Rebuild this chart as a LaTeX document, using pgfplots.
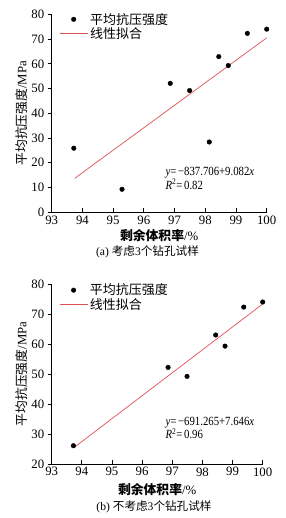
\documentclass[border=0pt]{standalone}
\usepackage{fontspec}
\usepackage{graphicx}
\setmainfont{Liberation Serif}
\newfontfamily\cjk{Noto Sans CJK SC}
\usepackage{pgfplots}
\pgfplotsset{compat=1.18}
\definecolor{fitred}{RGB}{222,80,84}
\pgfplotstableread{
x y
93.72 25.9
95.29 9.3
96.86 52.1
97.49 49.2
98.13 28.4
98.44 62.9
98.75 59.3
99.37 72.3
100.0 74.0
}\dataA
\pgfplotstableread{
x y
93.72 26.1
96.86 52.2
97.49 49.2
98.44 63.0
98.75 59.3
99.37 72.3
100.0 74.0
}\dataB
\pgfplotsset{
  markleg/.style={legend image code/.code={\draw[##1] plot coordinates {(14bp,0bp)};}},
  lineleg/.style={legend image code/.code={\draw[##1] (0bp,0bp) -- (28bp,0bp);}},
  myaxis/.style={
    scale only axis,
    axis lines=left,
    axis line style={line width=0.8pt,-},
    xmin=93, xmax=100,
    xtick={93,94,...,100},
    tick style={line width=0.8pt,black},
    major tick length=4bp,
    xtick align=inside,
    ytick align=outside,
    tick label style={font=\fontsize{12.8bp}{14bp}\selectfont},
    /pgf/number format/assume math mode=true,
    label style={font=\fontsize{12.8bp}{15bp}\selectfont},
    xlabel={\cjk\bfseries 剩余体积率\normalfont/\%},
    ylabel={\cjk 平均抗压强度\normalfont/MPa},
    ylabel style={yshift=-3bp},
    legend style={draw=none, fill=none, anchor=north west,
      font=\cjk\fontsize{13bp}{15bp}\selectfont, row sep=1bp, inner sep=1bp,
      nodes={inner ysep=0.5bp},
      /tikz/every even column/.append style={column sep=6bp}},
    legend cell align=left,
  }
}
\newcommand{\eqtext}[2]{\scalebox{0.86}[1]{\textit{y}=\,#1}\\\scalebox{0.86}[1]{\textit{R}\textsuperscript{2}=\,#2}}
\begin{document}
\begin{tikzpicture}[x=1bp,y=1bp]
\useasboundingbox (-51.7bp,-305.7bp) rectangle (234.3bp,212.3bp);
\begin{axis}[myaxis, at={(0bp,0bp)}, anchor=south west,
  width=215bp, height=198bp, ymin=0, ymax=80, ytick={0,10,...,80},
  xlabel style={at={(axis description cs:0.5,0)}, anchor=center, yshift=-23.5bp},
  legend style={at={(0.03,1.015)}}]
\addplot[only marks, mark=*, mark size=2.3bp, black, markleg]
  table[x=x,y=y] {\dataA};
\addlegendentry{平均抗压强度}
\addplot[fitred, line width=0.7pt, lineleg]
  coordinates {(93.75,13.73) (100,70.49)};
\addlegendentry{线性拟合}
\node[anchor=west, align=left, font=\fontsize{12.5bp}{13.5bp}\selectfont, inner sep=0pt]
  at (axis cs:96.70,13.7) {\eqtext{−837.706+9.082\textit{x}}{0.82}};
\end{axis}
\node[font=\fontsize{11.6bp}{14bp}\selectfont] at (95.8bp,-39.2bp) {(a) {\cjk 考虑}3{\cjk 个钻孔试样}};
\begin{axis}[myaxis, at={(0bp,-251.7bp)}, anchor=south west,
  width=211bp, height=180bp, ymin=20, ymax=80, ytick={20,30,...,80},
  xlabel style={at={(axis description cs:0.5,0)}, anchor=center, yshift=-26bp},
  legend style={at={(0.03,1.01)}}]
\addplot[only marks, mark=*, mark size=2.3bp, black, markleg]
  table[x=x,y=y] {\dataB};
\addlegendentry{平均抗压强度}
\addplot[fitred, line width=0.7pt, lineleg]
  coordinates {(93.72,25.33) (100,73.34)};
\addlegendentry{线性拟合}
\node[anchor=west, align=left, font=\fontsize{12.5bp}{13.5bp}\selectfont, inner sep=0pt]
  at (axis cs:96.77,32.0) {\eqtext{−691.265+7.646\textit{x}}{0.96}};
\end{axis}
\node[font=\fontsize{11.6bp}{14bp}\selectfont] at (102.3bp,-294.2bp) {(b) {\cjk 不考虑}3{\cjk 个钻孔试样}};
\end{tikzpicture}
\end{document}
